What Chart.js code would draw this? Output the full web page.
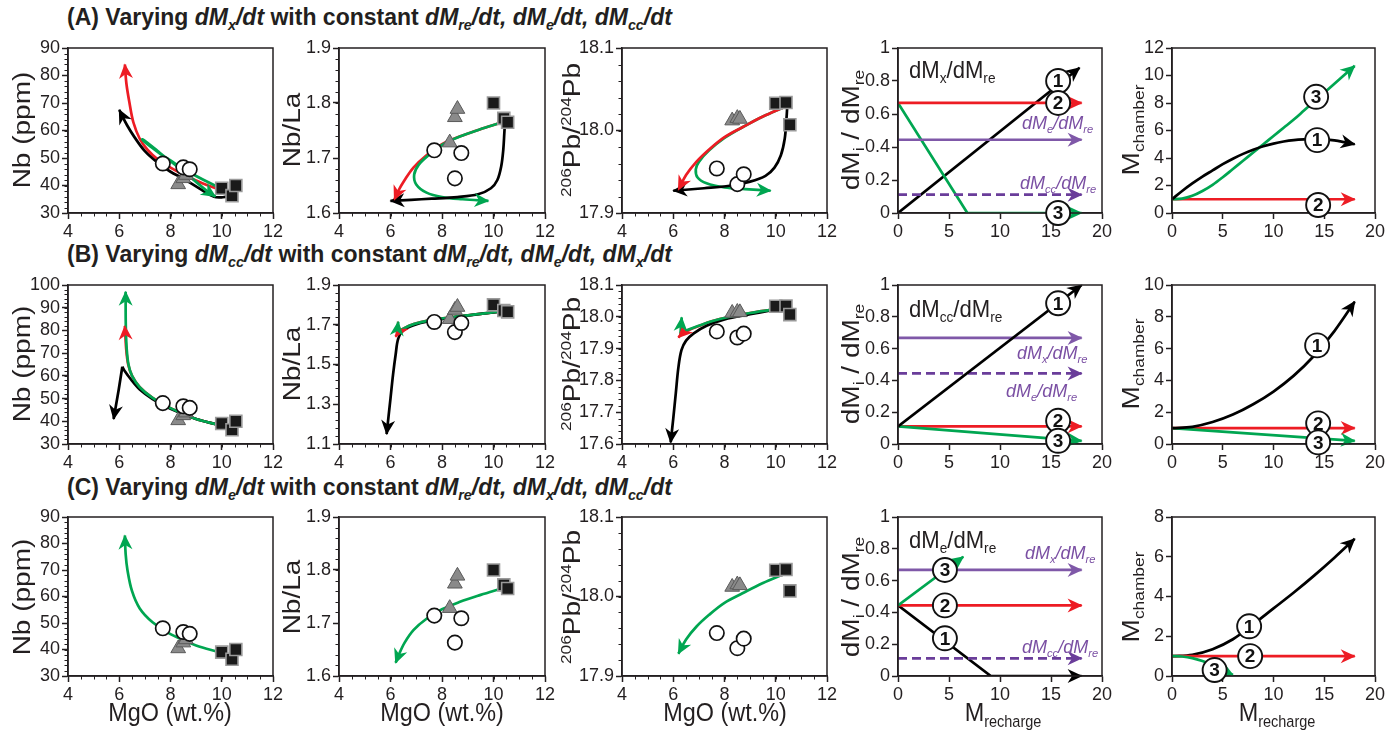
<!DOCTYPE html>
<html><head><meta charset="utf-8">
<script src="https://cdn.jsdelivr.net/npm/chart.js@4/dist/chart.umd.min.js"></script>
<style>
body{margin:0;background:#fff;width:1397px;height:731px;position:relative;overflow:hidden;font-family:"Liberation Sans",Arial,Helvetica,sans-serif;color:#231f20;}
canvas{position:absolute;}
.h{position:absolute;white-space:nowrap;line-height:1;}
.v{position:absolute;white-space:nowrap;line-height:1;transform:translate(-50%,-50%) rotate(-90deg) scaleY(0.88);}
sub{font-size:62%;vertical-align:-0.35em;line-height:0;}
sup{font-size:62%;vertical-align:0.6em;line-height:0;}
.ttl{font-weight:bold;font-size:23px;}
.yt{font-size:28px;}
.xt{font-size:26px;transform:translateX(-50%) scaleX(0.9);}
.pl{font-size:24px;transform-origin:0 50%;transform:scaleX(0.92);}
.pu{font-size:18px;font-style:italic;color:#7a4fa3;}
</style></head><body>
<div class="h ttl" style="left:67px;top:6px">(A) Varying <i>dM<sub>x</sub>/dt</i> with constant <i>dM<sub>re</sub>/dt, dM<sub>e</sub>/dt, dM<sub>cc</sub>/dt</i></div>
<div class="h ttl" style="left:67px;top:243px">(B) Varying <i>dM<sub>cc</sub>/dt</i> with constant <i>dM<sub>re</sub>/dt, dM<sub>e</sub>/dt, dM<sub>x</sub>/dt</i></div>
<div class="h ttl" style="left:67px;top:476px">(C) Varying <i>dM<sub>e</sub>/dt</i> with constant <i>dM<sub>re</sub>/dt, dM<sub>x</sub>/dt, dM<sub>cc</sub>/dt</i></div>
<script>
const FONT = "'Liberation Sans', Arial, Helvetica, sans-serif";

// ---- observed samples (MgO wt.%, Nb ppm, Nb/La, 206Pb/204Pb) ----
const mgoSq = [10.0, 10.4, 10.55];
const nbSq = [39.0, 36.3, 40.0];
const nblaSq = [1.800, 1.772, 1.765];
const pbSq = [18.033, 18.034, 18.007];
const mgoCi = [7.7, 8.5, 8.75];
const nbCi = [48.0, 46.6, 45.9];
const nblaCi = [1.714, 1.663, 1.709];
const pbCi = [17.954, 17.935, 17.947];
const mgoTr = [8.3, 8.5, 8.6];
const nbTr = [40.4, 42.6, 43.8];
const nblaTr = [1.728, 1.774, 1.789];
const pbTr = [18.012, 18.015, 18.014];

// ---- model curves, row A (varying dMx/dt) ----
const a1Red = [[9.9,38.5],[9.2,41],[8.5,44],[8.0,46.5],[7.5,49.5],[7.1,53],[6.8,57],[6.55,63],[6.4,70],[6.28,77],[6.22,84]];
const a1Black = [[10.4,38.5],[10.3,36.3],[10.0,35.7],[9.7,35.9],[9.2,38.5],[8.5,42.5],[8.0,45],[7.5,48.3],[7.0,52.5],[6.6,57.5],[6.3,62],[6.0,67.5]];
const a1Green = [[9.9,39.3],[9.3,42],[8.7,45],[8.1,48.5],[7.6,51.5],[7.2,54.3],[6.95,56.2],[6.9,56.8],[7.1,55.5],[7.5,52.5],[8.0,48.8],[8.6,44.5],[9.1,40.5],[9.45,37.8],[9.75,36]];
const a2Red = [[10.35,1.765],[9.6,1.754],[8.8,1.741],[8.0,1.725],[7.4,1.705],[6.9,1.683],[6.55,1.66],[6.3,1.64],[6.15,1.624]];
const a2Black = [[10.45,1.768],[10.42,1.745],[10.38,1.715],[10.3,1.685],[10.15,1.66],[9.9,1.645],[9.4,1.634],[8.6,1.629],[7.6,1.626],[6.8,1.624],[6.0,1.622]];
const a2Green = [[10.35,1.765],[9.6,1.754],[8.8,1.741],[8.0,1.724],[7.5,1.706],[7.1,1.688],[6.92,1.67],[7.0,1.652],[7.4,1.637],[8.0,1.629],[8.8,1.625],[9.8,1.622]];
const a3Red = [[10.3,18.028],[9.5,18.017],[8.7,18.004],[8.0,17.992],[7.4,17.977],[6.9,17.962],[6.5,17.946],[6.2,17.928]];
const a3Black = [[10.45,18.03],[10.42,18.015],[10.35,17.99],[10.2,17.97],[9.95,17.955],[9.6,17.945],[9.0,17.938],[8.2,17.933],[7.2,17.93],[6.0,17.927]];
const a3Green = [[10.3,18.028],[9.5,18.017],[8.7,18.004],[8.0,17.991],[7.4,17.976],[7.0,17.962],[6.88,17.953],[6.95,17.943],[7.3,17.936],[8.0,17.931],[8.8,17.929],[9.8,17.927]];
const a4Black = [[0,0],[17.8,0.88]];
const a4Red = [[0,0.667],[18,0.667]];
const a4Green = [[0,0.667],[6.8,0],[18,0]];
const a4Me = [[0,0.444],[18,0.444]];
const a4Mcc = [[0,0.111],[18,0.111]];
const a5Black = [[0,1],[1,1.6],[2,2.15],[3,2.65],[4,3.1],[5,3.55],[6,3.95],[7,4.3],[8,4.6],[9,4.85],[10,5.05],[11,5.2],[12,5.3],[13,5.35],[14,5.37],[15,5.35],[16,5.28],[17,5.15],[18,5.0]];
const a5Red = [[0,1],[18,1]];
const a5Green = [[0,1],[1,1.05],[2,1.25],[3,1.6],[4,2.05],[5,2.6],[6,3.2],[7,3.8],[8,4.4],[9,5.0],[10,5.6],[11,6.2],[12,6.8],[13,7.45],[14,8.1],[15,8.75],[16,9.4],[17,10.05],[18,10.7]];

// ---- row B (varying dMcc/dt) ----
const b1Red = [[9.85,38.5],[9,41],[8,45.8],[7.3,50.3],[6.8,55],[6.5,60],[6.35,65],[6.27,72],[6.22,82]];
const b1Green = [[9.85,38.5],[9,41],[8,45.8],[7.3,50.3],[6.8,55],[6.5,60],[6.36,65],[6.29,72],[6.26,80],[6.25,88],[6.25,97]];
const b1Black = [[9.85,38.5],[9,41],[8,45.5],[7.3,49.8],[6.8,54],[6.45,58.5],[6.22,62],[6.12,64]];
const b1BlackTail = [[6.12,64],[5.98,54],[5.78,41]];
const b2Red = [[10.4,1.768],[9.5,1.755],[8.5,1.74],[7.5,1.722],[6.9,1.703],[6.5,1.68],[6.3,1.66],[6.2,1.64]];
const b2Black = [[10.4,1.768],[9.5,1.755],[8.5,1.738],[7.5,1.718],[6.9,1.698],[6.5,1.672],[6.3,1.63],[6.2,1.55],[6.1,1.45],[6.0,1.33],[5.85,1.15]];
const b2Green = [[10.4,1.768],[9.5,1.755],[8.5,1.74],[7.5,1.722],[6.9,1.703],[6.5,1.68],[6.3,1.662],[6.25,1.655]];
const b2GreenTail = [[6.25,1.655],[6.3,1.715]];
const b3Red = [[9.8,18.022],[9.0,18.012],[8.2,18.0],[7.5,17.986],[7.0,17.971],[6.6,17.958],[6.35,17.947],[6.2,17.935]];
const b3Black = [[9.8,18.02],[9.0,18.008],[8.0,17.992],[7.3,17.972],[6.8,17.948],[6.5,17.925],[6.32,17.895],[6.2,17.84],[6.1,17.76],[6.0,17.68],[5.9,17.605]];
const b3Green = [[9.8,18.022],[9.0,18.012],[8.2,18.0],[7.5,17.986],[7.0,17.972],[6.6,17.96],[6.35,17.95],[6.28,17.946]];
const b3GreenTail = [[6.28,17.946],[6.33,17.998]];
const b4Black = [[0,0.111],[18,1.0]];
const b4Red = [[0,0.111],[18,0.111]];
const b4Green = [[0,0.111],[18,0.02]];
const b4Mx = [[0,0.667],[18,0.667]];
const b4Me = [[0,0.444],[18,0.444]];
const b5Black = [[0,1],[2,1.08],[4,1.38],[6,1.85],[8,2.5],[10,3.3],[12,4.3],[14,5.55],[16,7.1],[18,8.95]];
const b5Red = [[0,1],[18,1]];
const b5Green = [[0,1],[18,0.2]];

// ---- row C (varying dMe/dt) ----
const c1Green = [[9.9,39],[9.0,41.5],[8.0,45.8],[7.3,50.3],[6.8,55.5],[6.5,62],[6.32,70],[6.25,76],[6.22,83]];
const c2Green = [[10.3,1.765],[9.5,1.753],[8.7,1.74],[8.0,1.726],[7.4,1.708],[6.9,1.687],[6.55,1.663],[6.32,1.64],[6.2,1.625]];
const c3Green = [[10.3,18.028],[9.5,18.017],[8.7,18.004],[8.0,17.992],[7.4,17.977],[6.9,17.962],[6.5,17.946],[6.2,17.928]];
const c4Green = [[0,0.444],[6.4,0.75]];
const c4Red = [[0,0.444],[18,0.444]];
const c4Black = [[0,0.444],[9.1,0],[18,0]];
const c4Mx = [[0,0.667],[18,0.667]];
const c4Mcc = [[0,0.111],[18,0.111]];
const c5Black = [[0,1],[2,1.07],[4,1.35],[6,1.85],[8,2.6],[10,3.4],[12,4.2],[14,5.05],[16,5.95],[18,6.9]];
const c5Red = [[0,1],[18,1]];
const c5Green = [[0,1],[1,0.98],[2,0.9],[3,0.75],[4,0.55],[5,0.32],[6,0.05]];

// ---- curve numbering labels (data coordinates) ----
const a4Nums = [[15.7,0.80,'1'],[15.7,0.667,'2'],[15.7,0.0,'3']];
const a5Nums = [[14.3,5.3,'1'],[14.4,0.58,'2'],[14.2,8.45,'3']];
const b4Nums = [[15.7,0.885,'1'],[15.7,0.146,'2'],[15.7,0.02,'3']];
const b5Nums = [[14.3,6.2,'1'],[14.4,1.3,'2'],[14.4,0.1,'3']];
const c4Nums = [[4.6,0.237,'1'],[4.6,0.444,'2'],[4.6,0.667,'3']];
const c5Nums = [[7.6,2.5,'1'],[7.7,1.0,'2'],[4.2,0.3,'3']];

// ---------------------------------------------------------------
const RED = '#ed1c24', GREEN = '#00a651', BLACK = '#000000', PURPLE = '#7f58a8', PURPLE2 = '#6a3d9a';
const pts = a => a.map(p => ({x: p[0], y: p[1]}));
const zip = (xs, ys) => xs.map((x, i) => ({x, y: ys[i]}));

function line(data, color, opt = {}) {
  return Object.assign({data: pts(data), borderColor: color, backgroundColor: color, showLine: true,
    pointRadius: 0, borderWidth: 2.7, tension: 0.35, fill: false, arrow: true, order: 5}, opt);
}
function samples(ys) {
  return [
    {data: zip(mgoSq, ys[0]), pointStyle: 'rect', pointRadius: 8.5, backgroundColor: '#1a1a1a', borderColor: '#9a9a9a', borderWidth: 1.6, showLine: false, order: 0},
    {data: zip(mgoCi, ys[1]), pointStyle: 'circle', pointRadius: 7.2, backgroundColor: '#ffffff', borderColor: '#111', borderWidth: 1.7, showLine: false, order: 0},
    {data: zip(mgoTr, ys[2]), pointStyle: 'triangle', pointRadius: 8.5, backgroundColor: '#8a8a8a', borderColor: '#5a5a5a', borderWidth: 1, showLine: false, order: 0}
  ];
}
const NB = [nbSq, nbCi, nbTr], NBLA = [nblaSq, nblaCi, nblaTr], PB = [pbSq, pbCi, pbTr];

const COLS = [[68, 273], [339, 545], [622, 827], [898, 1102], [1172, 1375]];
const ROWS = [[48, 213], [285, 444], [517, 676]];
const MG = {min: 4, max: 12, step: 2, minor: 0.5, dec: 0};
const MR = {min: 0, max: 20, step: 5, dec: 0};

const panels = [
  {c: 0, r: 0, x: MG, y: {min: 30, max: 90, step: 10, minor: 2, dec: 0},
   ds: [...samples(NB), line(a1Green, GREEN, {order: 1}), line(a1Black, BLACK, {order: 2}), line(a1Red, RED, {order: 3})]},
  {c: 1, r: 0, x: MG, y: {min: 1.6, max: 1.9, step: 0.1, minor: 0.02, dec: 1},
   ds: [...samples(NBLA), line(a2Green, GREEN, {order: 2}), line(a2Black, BLACK, {order: 1}), line(a2Red, RED, {order: 3})]},
  {c: 2, r: 0, x: MG, y: {min: 17.9, max: 18.1, step: 0.1, minor: 0.02, dec: 1},
   ds: [...samples(PB), line(a3Green, GREEN, {order: 2}), line(a3Black, BLACK, {order: 1}), line(a3Red, RED, {order: 1.5})]},
  {c: 3, r: 0, x: MR, y: {min: 0, max: 1, step: 0.2, dec: -1},
   ds: [line(a4Me, PURPLE, {tension: 0}), line(a4Mcc, PURPLE2, {tension: 0, borderDash: [9, 5]}),
        line(a4Red, RED, {tension: 0}), line(a4Green, GREEN, {tension: 0}), line(a4Black, BLACK, {tension: 0})],
   nums: a4Nums},
  {c: 4, r: 0, x: MR, y: {min: 0, max: 12, step: 2, dec: 0},
   ds: [line(a5Red, RED, {tension: 0}), line(a5Green, GREEN, {order: 4}), line(a5Black, BLACK, {order: 3})], nums: a5Nums},

  {c: 0, r: 1, x: MG, y: {min: 30, max: 100, step: 10, minor: 2, dec: 0},
   ds: [...samples(NB), line(b1Red, RED, {order: 4}), line(b1Black, BLACK, {order: 3, arrow: false}), line(b1BlackTail, BLACK, {order: 3, tension: 0}), line(b1Green, GREEN, {order: 2})]},
  {c: 1, r: 1, x: MG, y: {min: 1.1, max: 1.9, step: 0.2, minor: 0.04, dec: 1},
   ds: [...samples(NBLA), line(b2Red, RED, {order: 4}), line(b2Black, BLACK, {order: 3}), line(b2Green, GREEN, {order: 2, arrow: false}), line(b2GreenTail, GREEN, {order: 2, tension: 0})]},
  {c: 2, r: 1, x: MG, y: {min: 17.6, max: 18.1, step: 0.1, minor: 0.02, dec: 1},
   ds: [...samples(PB), line(b3Red, RED, {order: 4}), line(b3Black, BLACK, {order: 3}), line(b3Green, GREEN, {order: 2, arrow: false}), line(b3GreenTail, GREEN, {order: 2, tension: 0})]},
  {c: 3, r: 1, x: MR, y: {min: 0, max: 1, step: 0.2, dec: -1},
   ds: [line(b4Mx, PURPLE, {tension: 0}), line(b4Me, PURPLE2, {tension: 0, borderDash: [9, 5]}),
        line(b4Red, RED, {tension: 0}), line(b4Green, GREEN, {tension: 0, order: 4}), line(b4Black, BLACK, {tension: 0, order: 3})],
   nums: b4Nums},
  {c: 4, r: 1, x: MR, y: {min: 0, max: 10, step: 2, dec: 0},
   ds: [line(b5Red, RED, {tension: 0}), line(b5Green, GREEN, {tension: 0, order: 4}), line(b5Black, BLACK, {order: 3})], nums: b5Nums},

  {c: 0, r: 2, x: MG, y: {min: 30, max: 90, step: 10, minor: 2, dec: 0},
   ds: [...samples(NB), line(c1Green, GREEN, {order: 2})]},
  {c: 1, r: 2, x: MG, y: {min: 1.6, max: 1.9, step: 0.1, minor: 0.02, dec: 1},
   ds: [...samples(NBLA), line(c2Green, GREEN, {order: 2})]},
  {c: 2, r: 2, x: MG, y: {min: 17.9, max: 18.1, step: 0.1, minor: 0.02, dec: 1},
   ds: [...samples(PB), line(c3Green, GREEN, {order: 2})]},
  {c: 3, r: 2, x: MR, y: {min: 0, max: 1, step: 0.2, dec: -1},
   ds: [line(c4Mx, PURPLE, {tension: 0}), line(c4Mcc, PURPLE2, {tension: 0, borderDash: [9, 5]}),
        line(c4Red, RED, {tension: 0}), line(c4Black, BLACK, {tension: 0}), line(c4Green, GREEN, {tension: 0, order: 3})],
   nums: c4Nums},
  {c: 4, r: 2, x: MR, y: {min: 0, max: 8, step: 2, dec: 0},
   ds: [line(c5Red, RED, {tension: 0, order: 4}), line(c5Green, GREEN, {order: 3}), line(c5Black, BLACK, {order: 5})], nums: c5Nums}
];

function drawArrow(ctx, x0, y0, x1, y1, color) {
  const a = Math.atan2(y1 - y0, x1 - x0);
  ctx.save();
  ctx.translate(x1, y1); ctx.rotate(a);
  ctx.beginPath();
  ctx.moveTo(1, 0); ctx.lineTo(-14, -7); ctx.lineTo(-9.5, 0); ctx.lineTo(-14, 7); ctx.closePath();
  ctx.fillStyle = color; ctx.fill();
  ctx.restore();
}

const deco = {
  id: 'deco',
  afterDatasetsDraw(chart) {
    const ctx = chart.ctx;
    chart.data.datasets.forEach((ds, i) => {
      if (!ds.showLine || !ds.arrow) return;
      const el = chart.getDatasetMeta(i).data;
      const p1 = el[el.length - 1];
      let x0 = p1.cp1x, y0 = p1.cp1y;
      if (x0 === undefined || Math.hypot(p1.x - x0, p1.y - y0) < 1) { x0 = el[el.length - 2].x; y0 = el[el.length - 2].y; }
      drawArrow(ctx, x0, y0, p1.x, p1.y, ds.borderColor);
    });
  },
  afterDraw(chart, args, o) {
    const ctx = chart.ctx, ca = chart.chartArea, xs = chart.scales.x, ys = chart.scales.y;
    ctx.save();
    ctx.strokeStyle = '#231f20'; ctx.lineWidth = 1.5;
    ctx.strokeRect(ca.left, ca.top, ca.right - ca.left, ca.bottom - ca.top);
    ctx.lineWidth = 1;
    if (o.mx) {
      for (let k = 0; ; k++) { const v = xs.min + k * o.mx; if (v > xs.max + 1e-9) break;
        const px = Math.round(xs.getPixelForValue(v)) + 0.5; ctx.beginPath(); ctx.moveTo(px, ca.bottom); ctx.lineTo(px, ca.bottom + 3.5); ctx.stroke(); }
    }
    if (o.my) {
      for (let k = 0; ; k++) { const v = ys.min + k * o.my; if (v > ys.max + 1e-9) break;
        const py = Math.round(ys.getPixelForValue(v)) + 0.5; ctx.beginPath(); ctx.moveTo(ca.left, py); ctx.lineTo(ca.left - 3.5, py); ctx.stroke(); }
    }
    (o.nums || []).forEach(n => {
      const px = xs.getPixelForValue(n[0]), py = ys.getPixelForValue(n[1]);
      ctx.beginPath(); ctx.arc(px, py, 12, 0, Math.PI * 2);
      ctx.fillStyle = '#fff'; ctx.fill(); ctx.lineWidth = 1.9; ctx.strokeStyle = '#111'; ctx.stroke();
      ctx.fillStyle = '#111'; ctx.font = 'bold 19px ' + FONT; ctx.textAlign = 'center'; ctx.textBaseline = 'middle';
      ctx.fillText(n[2], px, py + 1);
    });
    ctx.restore();
  }
};

const fmt = (v, dec) => dec < 0 ? String(+v.toFixed(2)) : v.toFixed(dec);
function axis(s, isX) {
  return {
    type: 'linear', min: s.min, max: s.max,
    afterFit: isX ? (sc => { sc.height = 30; }) : (sc => { sc.width = 64; }),
    ticks: {stepSize: s.step, color: '#231f20', font: {size: 18, family: FONT}, padding: 2,
      autoSkip: false, maxRotation: 0, callback: v => fmt(v, s.dec)},
    grid: {display: true, drawOnChartArea: false, drawTicks: true, tickLength: 6, tickColor: '#231f20', tickWidth: 1.5},
    border: {display: true, color: '#231f20', width: 1.5}
  };
}

panels.forEach(p => {
  const [l, r] = COLS[p.c], [t, b] = ROWS[p.r];
  const cv = document.createElement('canvas');
  const W = (r - l) + 64 + 16, H = (b - t) + 14 + 30;
  cv.width = W; cv.height = H;
  cv.style.left = (l - 64) + 'px'; cv.style.top = (t - 14) + 'px';
  cv.style.width = W + 'px'; cv.style.height = H + 'px';
  document.body.appendChild(cv);
  new Chart(cv, {
    type: 'scatter',
    data: {datasets: p.ds},
    options: {
      responsive: false, animation: false, devicePixelRatio: 1,
      layout: {padding: {left: 0, top: 14, right: 16, bottom: 0}},
      scales: {x: axis(p.x, true), y: axis(p.y, false)},
      plugins: {legend: {display: false}, tooltip: {enabled: false},
        deco: {mx: p.x.minor, my: p.y.minor, nums: p.nums}}
    },
    plugins: [deco]
  });
});

// ---- axis titles and in-panel labels ----
const txt = [];
const rowsC = [130, 364, 597];
rowsC.forEach(cy => {
  txt.push(['v yt', 22, cy, 'Nb (ppm)']);
  txt.push(['v yt', 292, cy, 'Nb/La']);
  txt.push(['v yt', 572, cy, '<sup>206</sup>Pb/<sup>204</sup>Pb']);
  txt.push(['v yt', 851, cy, 'dM<sub>i</sub> / dM<sub>re</sub>']);
  txt.push(['v yt', 1131, cy, 'M<sub>chamber</sub>']);
});
txt.forEach(t => {
  const d = document.createElement('div'); d.className = t[0];
  d.style.left = t[1] + 'px'; d.style.top = t[2] + 'px'; d.innerHTML = t[3];
  document.body.appendChild(d);
});
const htxt = [
  ['h xt', 170, 699, 'MgO (wt.%)'], ['h xt', 442, 699, 'MgO (wt.%)'], ['h xt', 725, 699, 'MgO (wt.%)'],
  ['h xt', 1003, 699, 'M<sub>recharge</sub>'], ['h xt', 1277, 699, 'M<sub>recharge</sub>'],
  ['h pl', 909, 58, 'dM<sub>x</sub>/dM<sub>re</sub>'],
  ['h pl', 909, 297, 'dM<sub>cc</sub>/dM<sub>re</sub>'],
  ['h pl', 909, 528, 'dM<sub>e</sub>/dM<sub>re</sub>'],
  ['h pu', 1022, 114, 'dM<sub>e</sub>/dM<sub>re</sub>'],
  ['h pu', 1020, 174, 'dM<sub>cc</sub>/dM<sub>re</sub>'],
  ['h pu', 1017, 344, 'dM<sub>x</sub>/dM<sub>re</sub>'],
  ['h pu', 1006, 382, 'dM<sub>e</sub>/dM<sub>re</sub>'],
  ['h pu', 1025, 544, 'dM<sub>x</sub>/dM<sub>re</sub>'],
  ['h pu', 1022, 638, 'dM<sub>cc</sub>/dM<sub>re</sub>']
];
htxt.forEach(t => {
  const d = document.createElement('div'); d.className = t[0];
  d.style.left = t[1] + 'px'; d.style.top = t[2] + 'px'; d.innerHTML = t[3];
  document.body.appendChild(d);
});
</script>
</body></html>
